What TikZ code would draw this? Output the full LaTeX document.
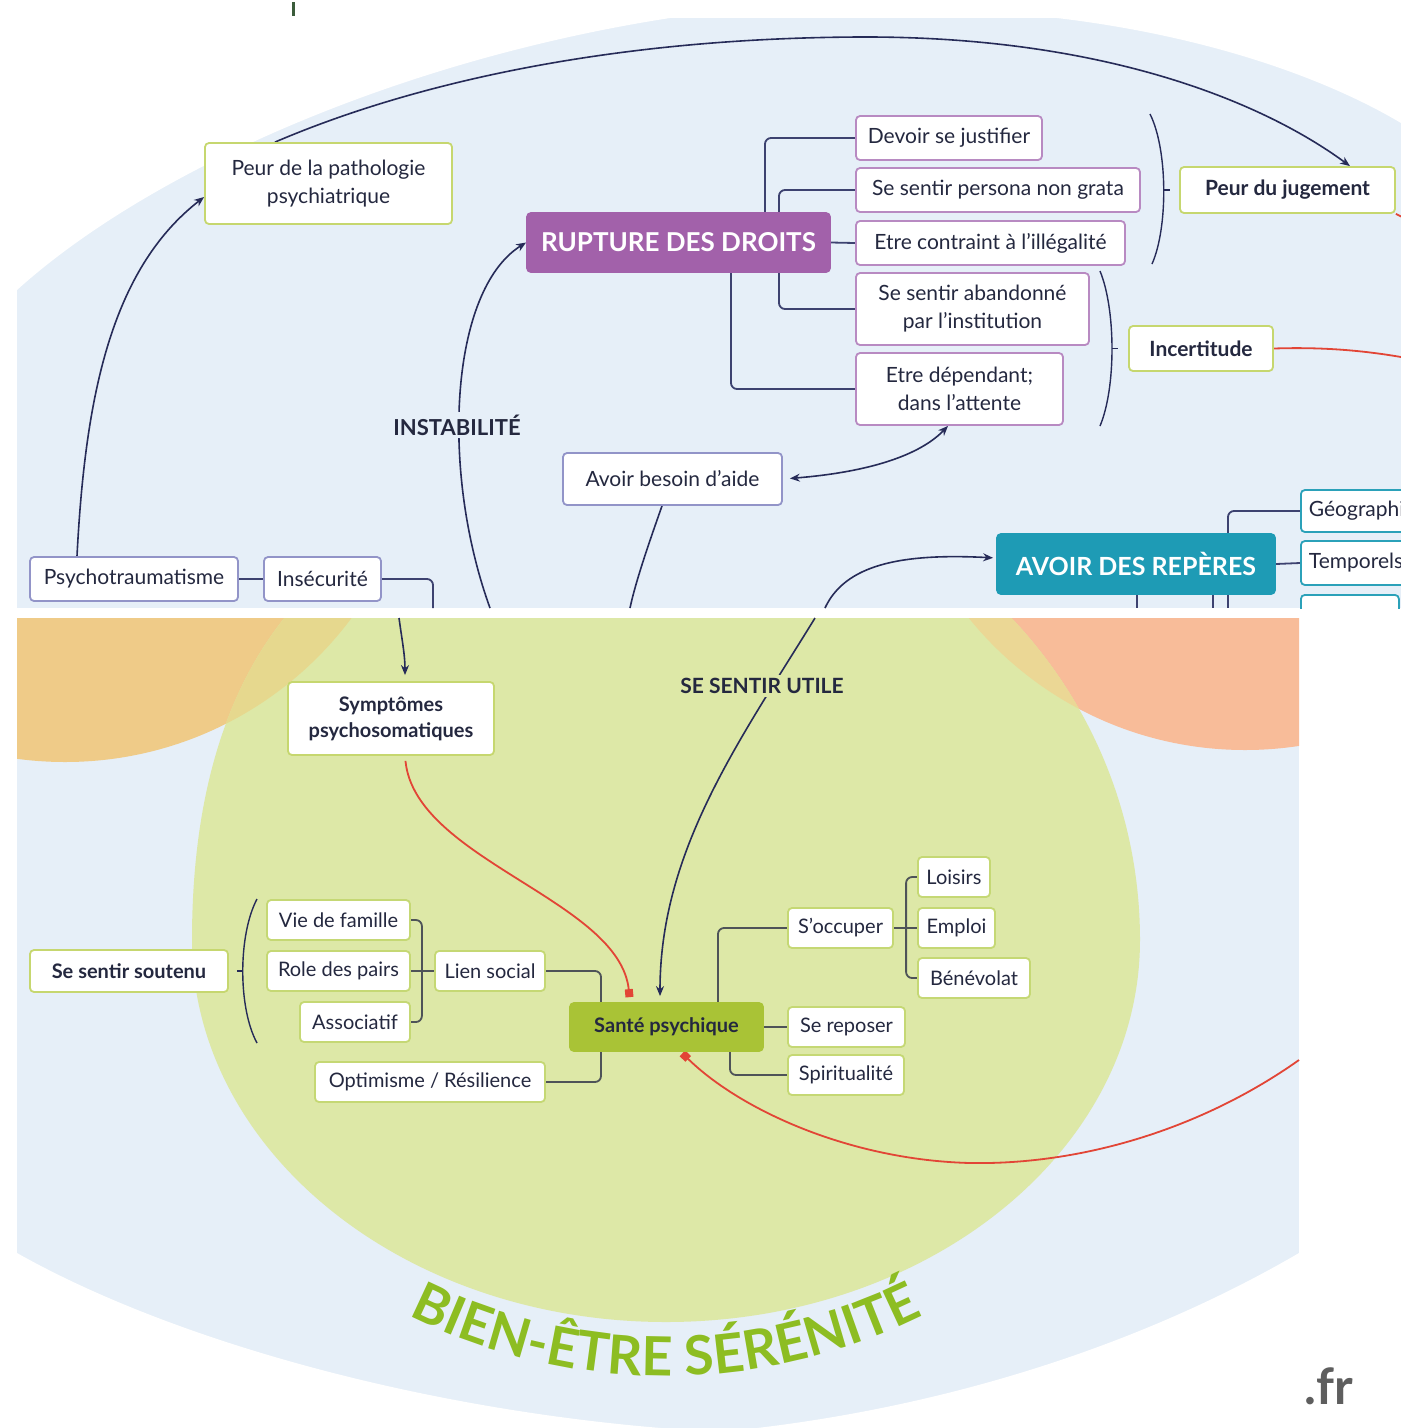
\documentclass[tikz,border=0pt]{standalone}
\usepackage{fontspec}
\setmainfont{Lato}
\usetikzlibrary{arrows.meta,decorations.text,calc}
\pgfdeclarelayer{bg}
\pgfdeclarelayer{edges}
\pgfsetlayers{bg,edges,main}
\definecolor{panel}{HTML}{E6EFF8}
\definecolor{purpF}{HTML}{A261AA}
\definecolor{purpB}{HTML}{B88AC2}
\definecolor{greenB}{HTML}{C6D76F}
\definecolor{blueB}{HTML}{9294C8}
\definecolor{tealF}{HTML}{1E9BB5}
\definecolor{tealB}{HTML}{2BA1B9}
\definecolor{limeB}{HTML}{C5D874}
\definecolor{santeF}{HTML}{A9C336}
\definecolor{txt}{HTML}{24283F}
\definecolor{navy}{HTML}{262B58}
\definecolor{navyT}{HTML}{3D4270}
\definecolor{treeB}{HTML}{4E5358}
\definecolor{redC}{HTML}{E24536}
\definecolor{orangeC}{HTML}{EFCB88}
\definecolor{salmonC}{HTML}{F8BC99}
\definecolor{greenC}{HTML}{DDE8A7}
\definecolor{ovO}{HTML}{E6D88E}
\definecolor{ovS}{HTML}{EBD795}
\definecolor{betC}{HTML}{8DBD22}
\definecolor{frC}{HTML}{5E5E5E}
\definecolor{markC}{HTML}{3B5C3B}
\newcommand\greenshape{(666,470) .. controls (928,470) and (1140,680) .. (1140,940) .. controls (1140,1151) and (928,1322) .. (666,1322) .. controls (404,1322) and (192,1151) .. (192,940) .. controls (192,640) and (340,470) .. (666,470) -- cycle}
\begin{document}
\begin{tikzpicture}[x=1pt,y=-1pt,
  nb/.style={rounded corners=4pt, line width=1.8pt, fill=white, inner sep=0pt, align=center, text=txt, font=\fontsize{21}{28}\selectfont},
  pbox/.style={nb, draw=purpB},
  gbox/.style={nb, draw=greenB},
  bbox/.style={nb, draw=blueB},
  tbox/.style={nb, draw=tealB},
  lbox/.style={nb, draw=limeB, font=\fontsize{20}{26}\selectfont},
  bld/.style={font=\fontsize{21}{27}\selectfont\bfseries},
  conn/.style={draw=navy, line width=1.6pt},
  arr/.style={conn, -{Stealth[length=10pt,width=8pt]}},
  tree/.style={draw=navyT, line width=1.8pt, rounded corners=6pt},
  treeb/.style={draw=treeB, line width=1.8pt, rounded corners=6pt},
  brace/.style={draw=navy, line width=1.4pt},
  redl/.style={draw=redC, line width=1.8pt},
  lbl/.style={font=\fontsize{22}{24}\selectfont\bfseries, text=txt, inner sep=3pt},
]
\useasboundingbox (0,0) rectangle (1401,1428);

% ---------- backgrounds ----------
\begin{pgfonlayer}{bg}
\fill[white] (0,0) rectangle (1401,1428);
\fill[markC] (291.5,2) rectangle (294.5,16);
\begin{scope}
  \clip (17,18) rectangle (1401,608);
  \fill[panel] (17,18) rectangle (1401,608);
  \fill[white] (10,10) -- (680,10) -- (670,18) .. controls (400,60) and (150,170) .. (17,290) -- (10,290) -- cycle;
  \fill[white] (1057,18) .. controls (1200,35) and (1320,75) .. (1401,123) -- (1410,123) -- (1410,10) -- (1057,10) -- cycle;
\end{scope}
\begin{scope}
  \clip (17,618) rectangle (1299,1428);
  \fill[panel] (17,618) rectangle (1299,1428);
  \fill[orangeC] (65,405) circle[radius=357];
  \fill[salmonC] (1245,395) circle[radius=355];
  \fill[greenC] \greenshape;
  \begin{scope}
    \clip (65,405) circle[radius=357];
    \fill[ovO] \greenshape;
  \end{scope}
  \begin{scope}
    \clip (1245,395) circle[radius=355];
    \fill[ovS] \greenshape;
  \end{scope}
  \fill[white] (17,1253) .. controls (180,1345) and (450,1418) .. (720,1432) -- (10,1440) -- cycle;
  \fill[white] (1299,1253) .. controls (1150,1340) and (950,1410) .. (720,1432) -- (1310,1440) -- cycle;
\end{scope}
\end{pgfonlayer}

% ---------- top panel nodes ----------
\node[gbox, minimum width=247, minimum height=81] (peurpath) at (328.5,183.5) {Peur de la pathologie\\psychiatrique};
\node[nb, fill=purpF, draw=purpF, text=white, font=\fontsize{26}{30}\selectfont\bfseries, minimum width=303, minimum height=59] (rupture) at (678.5,242.5) {RUPTURE DES DROITS};
\node[pbox, minimum width=186, minimum height=44] (devoir) at (949,138) {Devoir se justifier};
\node[pbox, minimum width=284, minimum height=44] (persona) at (998,190) {Se sentir persona non grata};
\node[pbox, minimum width=269, minimum height=44] (contraint) at (990.5,243) {Etre contraint à l'illégalité};
\node[pbox, minimum width=233, minimum height=72] (abandon) at (972.5,309) {Se sentir abandonné\\par l'institution};
\node[pbox, minimum width=207, minimum height=72] (dependant) at (959.5,389) {Etre dépendant;\\dans l'attente};
\node[gbox, bld, minimum width=215, minimum height=46] (jugement) at (1287.5,190) {Peur du jugement};
\node[gbox, bld, minimum width=144, minimum height=45] (incertitude) at (1201,348.5) {Incertitude};
\node[bbox, minimum width=219, minimum height=52] (besoin) at (672.5,479) {Avoir besoin d'aide};
\node[bbox, minimum width=208, minimum height=44] (psycho) at (134,579) {Psychotraumatisme};
\node[bbox, minimum width=117, minimum height=44] (insecurite) at (322.5,579) {Insécurité};
\node[nb, fill=tealF, draw=tealF, text=white, font=\fontsize{25}{30}\selectfont\bfseries, minimum width=278, minimum height=60] (reperes) at (1136,564) {AVOIR DES REPÈRES};
\node[tbox, anchor=west, minimum height=42, inner xsep=8pt] (geo) at (1300,511) {Géographiques};
\node[tbox, anchor=west, minimum height=44, inner xsep=8pt] (temporel) at (1300,563) {Temporels};
\begin{scope}
  \clip (17,18) rectangle (1401,608);
  \node[tbox, anchor=north west, minimum width=98, minimum height=44] (humain) at (1300,594) {};
\end{scope}
\node[lbl, fill=panel] (instab) at (457,425) {INSTABILITÉ};

% ---------- bottom panel nodes ----------
\node[gbox, bld, font=\fontsize{20}{26}\selectfont\bfseries, minimum width=206, minimum height=73] (symptomes) at (391,718.5) {Symptômes\\psychosomatiques};
\node[lbl, font=\fontsize{21}{24}\selectfont\bfseries, fill=greenC] (utile) at (762,686) {SE SENTIR UTILE};
\node[nb, fill=santeF, draw=santeF, font=\fontsize{20}{26}\selectfont\bfseries, minimum width=193, minimum height=48] (sante) at (666.5,1027) {Santé psychique};
\node[lbox, minimum width=105, minimum height=40] (soccuper) at (840.5,928) {S'occuper};
\node[lbox, minimum width=117, minimum height=40] (reposer) at (846.5,1027) {Se reposer};
\node[lbox, minimum width=116, minimum height=40] (spirit) at (846,1075) {Spiritualité};
\node[lbox, minimum width=72, minimum height=40] (loisirs) at (954,877) {Loisirs};
\node[lbox, minimum width=77, minimum height=40] (emploi) at (956.5,928) {Emploi};
\node[lbox, minimum width=112, minimum height=40] (benevolat) at (974,978) {Bénévolat};
\node[lbox, minimum width=110, minimum height=40] (lien) at (490,971) {Lien social};
\node[lbox, minimum width=230, minimum height=40] (optimisme) at (430,1082) {Optimisme / Résilience};
\node[lbox, minimum width=143, minimum height=40] (viefam) at (338.5,920) {Vie de famille};
\node[lbox, minimum width=143, minimum height=40] (role) at (338.5,971) {Role des pairs};
\node[lbox, minimum width=110, minimum height=40] (assoc) at (355,1022) {Associatif};
\node[gbox, font=\fontsize{20}{26}\selectfont\bfseries, minimum width=198, minimum height=42] (soutenu) at (129,971) {Se sentir soutenu};
\node[font=\fontsize{50}{50}\selectfont\bfseries, text=frC, inner sep=0pt] (fr) at (1329,1386) {.fr};

% ---------- connectors ----------
\begin{pgfonlayer}{edges}
\coordinate (cI) at (490,608);
\coordinate (cB) at (630,608);
\coordinate (cR) at (825,608);
\coordinate (cS) at (433,608);
\coordinate (cInc) at (1401,357);
\coordinate (cR1) at (1228,608);
\coordinate (cR2) at (1213,608);
\coordinate (cR3) at (1137,608);
\coordinate (cT) at (399,618);
\coordinate (cU) at (815,618);
\coordinate (cRed) at (1299,1060);

% rupture tree
\draw[tree] ([xshift=86.5]rupture.north) |- (devoir.west);
\draw[tree] ([xshift=100.5]rupture.north) |- (persona.west);
\draw[tree] (rupture.east) -- (contraint.west);
\draw[tree] ([xshift=100.5]rupture.south) |- (abandon.west);
\draw[tree] ([xshift=52.5]rupture.south) |- (dependant.west);
% braces
\draw[brace] (1150,114) .. controls (1168,150) and (1168,228) .. (1152,264);
\draw[brace] ([xshift=-15]jugement.west) -- ([xshift=-9]jugement.west);
\draw[brace] (1100,271) .. controls (1116,310) and (1116,388) .. (1100,426);
\draw[brace] ([xshift=-16]incertitude.west) -- ([xshift=-10]incertitude.west);
% curved arrows top
\draw[arr] ([xshift=-53.5]peurpath.north) .. controls (420,80) and (620,38) .. (860,37) .. controls (1100,36) and (1260,100) .. ([xshift=62.5]jugement.north);
\draw[arr] ([xshift=-57]psycho.north) .. controls (85,400) and (110,270) .. ([yshift=-13.5]peurpath.west);
\draw[arr] (cI) .. controls (440,470) and (450,290) .. (rupture.west);
\draw[conn, {Stealth[length=10pt,width=8pt]}-{Stealth[length=10pt,width=8pt]}, shorten <=7pt] (besoin.east) .. controls (870,472) and (920,455) .. ([xshift=-11.5]dependant.south);
\draw[conn] ([xshift=-10.5]besoin.south) .. controls (650,540) and (636,580) .. (cB);
\draw[arr, shorten >=3pt] (cR) .. controls (845,565) and (900,553) .. ([yshift=6]reperes.west);
\draw[tree] (psycho.east) -- (insecurite.west);
\draw[tree] (insecurite.east) -| (cS);
\draw[redl] (incertitude.east) .. controls (1320,347) and (1360,350) .. (cInc);
\draw[redl] (jugement.south east) -- ++(6,3);
% reperes tree
\draw[tree] ([xshift=92]reperes.north) |- (geo.west);
\draw[tree] (reperes.east) -- (temporel.west);
\draw[tree] (reperes.south -| cR1) -- (cR1);
\draw[tree] (reperes.south -| cR2) -- (cR2);
\draw[tree] (reperes.south -| cR3) -- (cR3);

% bottom panel
\draw[arr, shorten >=6pt] (cT) .. controls (402,640) and (405,655) .. ([xshift=14]symptomes.north);
\draw[arr, shorten >=6pt] (cU) .. controls (740,740) and (660,850) .. ([xshift=-6.5]sante.north);
\draw[redl, -{Square[length=8pt,width=8pt]}, shorten <=5pt, shorten >=5pt] ([xshift=14]symptomes.south) .. controls (415,860) and (620,900) .. ([xshift=-36.5]sante.north);
\draw[redl, -{Square[length=8pt,width=8pt]}, shorten >=2pt] (cRed) .. controls (1200,1130) and (1080,1165) .. (970,1163) .. controls (850,1160) and (740,1110) .. ([xshift=14.5]sante.south);
\draw[treeb] (viefam.east) -| ([xshift=11]role.east) |- (assoc.east);
\draw[treeb] (role.east) -- (lien.west);
\draw[treeb] (lien.east) -| ([xshift=-65.5]sante.north);
\draw[treeb] (optimisme.east) -| ([xshift=-65.5]sante.south);
\draw[treeb] ([xshift=51.5]sante.north) |- (soccuper.west);
\draw[treeb] (sante.east) -- (reposer.west);
\draw[treeb] ([xshift=63.5]sante.south) |- (spirit.west);
\draw[treeb] (loisirs.west) -| ([xshift=-11]emploi.west) |- (benevolat.west);
\draw[treeb] (soccuper.east) -- (emploi.west);
\draw[brace] (257,899) .. controls (238,935) and (238,1008) .. (257,1043);
\draw[brace] ([xshift=8]soutenu.east) -- ([xshift=14]soutenu.east);
\end{pgfonlayer}

% curved title
\path[decorate, decoration={text along path, text={|\fontsize{54}{54}\selectfont\bfseries|BIEN-ÊTRE SÉRÉNITÉ}, text align=center, text color=betC}]
  plot[domain=122:58, samples=60] ({666+576*cos(\x)},{800+576*sin(\x)});
\end{tikzpicture}
\end{document}
